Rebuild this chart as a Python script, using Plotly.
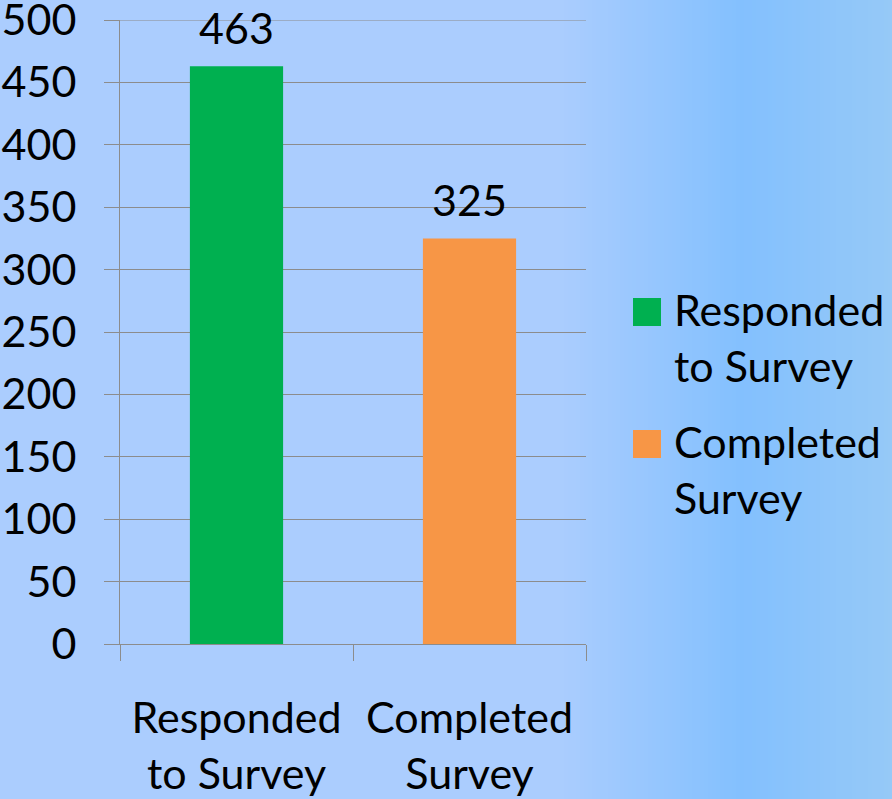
import plotly.graph_objects as go

categories = ["Responded to Survey", "Completed Survey"]
tick_labels = ["Responded<br>to Survey", "Completed<br>Survey"]
values = [463, 325]
colors = ["#00b050", "#f79646"]
y_ticks = [0, 50, 100, 150, 200, 250, 300, 350, 400, 450, 500]

W, H = 892, 799
L, R, T, B = 120, 306, 20, 155
PW, PH = W - L - R, H - T - B

def px_x(px):
    return (px - L) / PW

def px_y(py):
    return (H - B - py) / PH

FONT = "Lato"
FS = 43
GRID = "#8c8c8c"

fig = go.Figure()
fig.add_trace(go.Bar(x=categories, y=values, marker_color=colors, width=0.4,
                     marker_line_width=0, showlegend=False, cliponaxis=False))

# data labels
for c, v in zip(categories, values):
    fig.add_annotation(x=c, y=v, text=str(v), showarrow=False, yanchor="bottom",
                       yshift=11, font=dict(family=FONT, size=FS, color="black"))

# background gradient strips
def lerp(a, b, t):
    return tuple(round(a[i] + (b[i] - a[i]) * t) for i in range(3))

c0, c1, c2 = (171, 205, 254), (131, 192, 254), (150, 201, 247)
shapes = []
x_start, x_mid, x_end = 556, 740, 892
step = 4
px = x_start
while px < x_end:
    if px < x_mid:
        col = lerp(c0, c1, (px - x_start) / (x_mid - x_start))
    else:
        col = lerp(c1, c2, (px - x_mid) / (x_end - x_mid))
    shapes.append(dict(type="rect", xref="paper", yref="paper", layer="below",
                       x0=px_x(px), x1=px_x(px + step + 1), y0=px_y(H + 5), y1=px_y(-5),
                       fillcolor="rgb(%d,%d,%d)" % col, line=dict(width=0)))
    px += step

# top gridline (plotly drops the gridline at the range edge)
shapes.append(dict(type="line", xref="paper", yref="y", x0=0, x1=1,
                   y0=y_ticks[-1], y1=y_ticks[-1], line=dict(color=GRID, width=1)))

# manual legend
leg_items = [("Responded<br>to Survey", colors[0], 298), ("Completed<br>Survey", colors[1], 430)]
for text, col, top in leg_items:
    shapes.append(dict(type="rect", xref="paper", yref="paper",
                       x0=px_x(633), x1=px_x(661), y0=px_y(top + 28), y1=px_y(top),
                       fillcolor=col, line=dict(width=0)))
    fig.add_annotation(xref="paper", yref="paper", x=px_x(672), y=px_y(top - 16),
                       xanchor="left", yanchor="top", align="left", text=text,
                       showarrow=False, font=dict(family=FONT, size=FS, color="black"))

fig.update_layout(
    width=W, height=H,
    margin=dict(l=L, r=R, t=T, b=B, autoexpand=False),
    paper_bgcolor="rgb(171,205,254)",
    plot_bgcolor="rgba(0,0,0,0)",
    shapes=shapes,
    bargap=0.6,
    font=dict(family=FONT, size=FS, color="black"),
)
fig.update_xaxes(tickvals=categories, ticktext=tick_labels, tickson="boundaries",
                 ticks="outside", ticklen=16, tickcolor=GRID, tickwidth=1,
                 showline=True, linecolor=GRID, linewidth=1, automargin=False,
                 ticklabelstandoff=36, tickfont=dict(family=FONT, size=FS),
                 showgrid=False, zeroline=False)
fig.update_yaxes(range=[0, 500], tickvals=y_ticks, ticks="outside", ticklen=15,
                 tickcolor=GRID, tickwidth=1, showline=True, linecolor=GRID,
                 linewidth=1, showgrid=True, gridcolor=GRID, gridwidth=1,
                 automargin=False, zeroline=False, ticklabelstandoff=19,
                 ticklabeloverflow="allow", tickfont=dict(family=FONT, size=FS))

fig.write_html("out.html", config={"responsive": False, "displayModeBar": False},
               post_script="document.body.style.margin='0';document.body.style.padding='0';")
